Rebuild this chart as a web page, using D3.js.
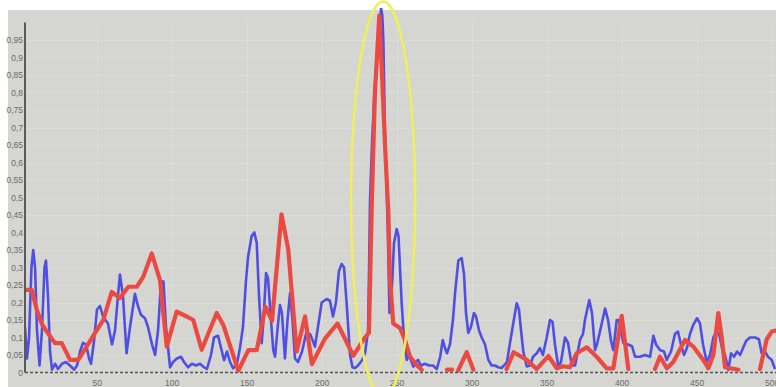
<!DOCTYPE html>
<html><head><meta charset="utf-8">
<script src="https://cdn.jsdelivr.net/npm/d3@7"></script>
<style>
html,body{margin:0;padding:0;background:#fff;}
svg{display:block;font-family:"Liberation Sans",Arial,sans-serif;}
</style></head>
<body>
<svg id="chart" width="776" height="387"></svg>
<script>
// ---- data ----
const yTicks = [0,0.05,0.1,0.15,0.2,0.25,0.3,0.35,0.4,0.45,0.5,0.55,0.6,0.65,0.7,0.75,0.8,0.85,0.9,0.95];
const xTicks = [50,100,150,200,250,300,350,400,450,500];
const bluePoints = [[2.2,0.13],[3.5,0.04],[4.9,0.10],[6.5,0.30],[7.7,0.35],[8.9,0.30],[10.2,0.12],[11.9,0.02],[13.5,0.12],[15.2,0.30],[16.2,0.32],[17.5,0.22],[18.9,0.06],[20.2,0.008],[22.2,0.025],[24.2,0.01],[26.9,0.025],[29.5,0.03],[32.2,0.02],[34.9,0.008],[36.9,0.02],[38.9,0.06],[40.9,0.085],[42.9,0.08],[44.9,0.04],[46.2,0.025],[48.2,0.09],[50.2,0.18],[52.2,0.19],[54.2,0.16],[57.5,0.14],[60.2,0.08],[62.2,0.12],[64.2,0.22],[65.5,0.28],[67.5,0.22],[69.9,0.055],[72.2,0.13],[75.5,0.225],[77.5,0.19],[79.5,0.165],[82.2,0.155],[84.2,0.13],[86.9,0.08],[88.9,0.05],[90.9,0.12],[92.9,0.26],[94.5,0.26],[96.2,0.13],[98.9,0.015],[100.9,0.03],[103.5,0.04],[106.2,0.045],[108.2,0.03],[110.9,0.015],[113.5,0.025],[116.2,0.02],[118.9,0.025],[121.5,0.015],[123.5,0.01],[126.2,0.05],[128.2,0.10],[130.9,0.105],[132.9,0.07],[134.9,0.035],[136.9,0.06],[138.9,0.03],[140.9,0.012],[143.5,0.025],[145.5,0.07],[147.5,0.13],[149.5,0.26],[150.9,0.33],[153.3,0.39],[155.1,0.40],[156.7,0.37],[158.2,0.22],[160.0,0.084],[161.2,0.15],[162.9,0.284],[164.2,0.27],[165.5,0.19],[167.7,0.064],[168.9,0.045],[170.9,0.14],[172.2,0.193],[173.5,0.17],[175.5,0.04],[177.2,0.15],[178.9,0.227],[180.5,0.15],[182.2,0.04],[184.2,0.03],[186.9,0.06],[189.5,0.11],[192.2,0.11],[194.2,0.09],[195.5,0.074],[197.5,0.13],[200.0,0.2],[203.3,0.21],[205.5,0.205],[207.5,0.16],[209.5,0.2],[211.5,0.29],[213.3,0.31],[214.9,0.30],[216.9,0.18],[218.9,0.05],[220.5,0.015],[222.2,0.013],[224.2,0.02],[226.9,0.035],[228.9,0.055],[230.9,0.12],[231.6,0.3],[232.2,0.49],[233.5,0.65],[234.9,0.78],[236.7,0.9],[238.2,0.98],[239.6,1.04],[240.4,1.02],[241.1,0.95],[242.2,0.68],[244.0,0.42],[245.2,0.17],[246.9,0.25],[248.2,0.37],[250.0,0.41],[251.2,0.39],[253.3,0.20],[254.5,0.12],[255.5,0.07],[256.7,0.036],[258.2,0.05],[259.5,0.035],[261.1,0.017],[262.9,0.03],[264.2,0.036],[266.2,0.02],[268.9,0.025],[271.5,0.02],[274.2,0.02],[276.7,0.01],[279.0,0.045],[280.7,0.093],[282.2,0.07],[283.5,0.055],[285.5,0.08],[287.5,0.15],[288.9,0.227],[291.1,0.32],[293.3,0.327],[294.9,0.28],[296.2,0.17],[297.7,0.113],[299.5,0.13],[301.5,0.17],[302.9,0.16],[304.9,0.12],[306.7,0.10],[308.9,0.08],[311.1,0.036],[313.3,0.02],[315.5,0.02],[317.7,0.015],[320.0,0.013],[321.5,0.02],[323.5,0.03],[325.5,0.084],[327.7,0.14],[330.0,0.198],[331.5,0.18],[332.9,0.12],[334.4,0.06],[336.7,0.017],[338.9,0.02],[340.9,0.045],[343.4,0.055],[345.5,0.07],[347.5,0.05],[350.0,0.1],[352.2,0.15],[353.9,0.145],[355.5,0.08],[357.7,0.017],[359.5,0.03],[362.2,0.10],[364.2,0.085],[366.7,0.02],[368.9,0.02],[372.2,0.093],[374.2,0.11],[375.5,0.15],[378.4,0.207],[380.2,0.17],[382.2,0.064],[383.5,0.08],[386.2,0.13],[388.9,0.183],[390.9,0.15],[392.9,0.09],[394.4,0.064],[396.7,0.15],[398.2,0.15],[401.1,0.084],[404.2,0.08],[406.9,0.075],[408.9,0.045],[412.2,0.045],[415.5,0.05],[418.9,0.045],[421.1,0.105],[422.9,0.08],[425.5,0.064],[428.2,0.06],[430.0,0.036],[432.9,0.06],[435.5,0.11],[437.5,0.117],[439.5,0.08],[441.5,0.05],[443.5,0.07],[445.5,0.11],[447.7,0.136],[450.2,0.155],[452.2,0.14],[454.2,0.08],[456.7,0.03],[458.9,0.05],[461.1,0.10],[463.3,0.117],[464.9,0.11],[466.9,0.07],[468.9,0.05],[471.1,0.007],[472.9,0.055],[474.9,0.045],[476.9,0.06],[478.9,0.05],[480.9,0.07],[482.9,0.09],[485.5,0.10],[488.9,0.10],[491.5,0.095],[493.3,0.055],[495.5,0.06],[497.5,0.045],[500.0,0.036],[502.2,0.01]];
const redPoints = [[2.2,0.236],[6.7,0.236],[10.0,0.18],[13.3,0.14],[16.7,0.117],[22.2,0.084],[26.7,0.084],[32.2,0.036],[37.7,0.036],[43.3,0.074],[48.9,0.113],[54.4,0.15],[60.0,0.23],[65.5,0.213],[71.1,0.245],[76.7,0.245],[81.1,0.274],[86.7,0.34],[92.2,0.264],[96.7,0.074],[103.3,0.174],[110.0,0.16],[114.4,0.15],[120.0,0.065],[130.0,0.17],[134.4,0.136],[144.4,0.005],[151.1,0.064],[156.7,0.064],[162.5,0.188],[166.9,0.148],[173.2,0.452],[177.7,0.352],[183.3,0.06],[188.9,0.16],[193.5,0.024],[202.2,0.097],[210.5,0.14],[221.1,0.048],[228.9,0.10],[231.5,0.113],[233.5,0.5],[235.5,0.8],[238.4,1.02],[240.2,0.85],[242.2,0.65],[244.4,0.46],[245.5,0.27],[247.7,0.14],[252.2,0.127],[255.5,0.093],[258.9,0.045],[263.3,0.021],[266.7,0.008],[270,null],[283.5,0.008],[286.9,0.008],[288,null],[290.9,0.005],[296.7,0.058],[301.1,0.008],[305,null],[323.3,0.01],[327.9,0.058],[336.7,0.036],[343.3,0.01],[351.1,0.047],[356.7,0.012],[361.1,0.018],[365.5,0.015],[370.0,0.055],[376.7,0.072],[383.3,0.045],[390.0,0.012],[394.4,0.012],[400.0,0.162],[404.4,0.01],[410,null],[422.2,0.01],[425.5,0.045],[430.2,0.012],[434.4,0.03],[442.2,0.093],[447.7,0.074],[454.4,0.036],[457.8,0.012],[461.1,0.05],[464.4,0.17],[466.7,0.1],[468.9,0.015],[477.8,0.008],[485,null],[492.2,0.01],[496.7,0.095],[500.0,0.117],[502.9,0.12]];
// annotation ellipse around the main peak (data units)
const ellipseX = [219.6, 262.3];
const ellipseY = [-0.07, 1.06];

// ---- chart ----
const svg = d3.select("#chart");
const W = 776, H = 387;
const x = d3.scaleLinear().domain([0, 500]).range([21.7, 771.7]);
const y = d3.scaleLinear().domain([0, 1]).range([372.5, 22.5]);
const plotLeft = x(2.2), plotRight = W, plotTop = 8, plotBottom = y(0);

svg.append("rect").attr("x", 8).attr("y", 10).attr("width", W - 8).attr("height", H - 10).attr("fill", "#d5d5d1");

// grid
svg.append("g").selectAll("line").data(yTicks.filter(d => d > 0)).join("line")
  .attr("x1", plotLeft).attr("x2", plotRight)
  .attr("y1", d => Math.round(y(d)) + 0.5).attr("y2", d => Math.round(y(d)) + 0.5)
  .attr("stroke", "#e2e2de").attr("stroke-width", 1).attr("stroke-dasharray", "2,2");
svg.append("g").selectAll("line").data(xTicks).join("line")
  .attr("x1", d => Math.round(x(d)) + 0.5).attr("x2", d => Math.round(x(d)) + 0.5)
  .attr("y1", y(1)).attr("y2", plotBottom)
  .attr("stroke", "#e2e2de").attr("stroke-width", 1).attr("stroke-dasharray", "2,2");

// clip
svg.append("defs").append("clipPath").attr("id", "clip").append("rect")
  .attr("x", plotLeft).attr("y", plotTop).attr("width", plotRight - plotLeft).attr("height", plotBottom - plotTop);

const line = d3.line().defined(d => d[1] !== null).x(d => x(d[0])).y(d => y(d[1]));
const g = svg.append("g").attr("clip-path", "url(#clip)");
g.append("path").datum(bluePoints).attr("d", line).attr("fill", "none")
  .attr("stroke", "#4f4fe4").attr("stroke-width", 2.6).attr("stroke-linejoin", "round");
g.append("path").datum(redPoints).attr("d", line).attr("fill", "none")
  .attr("stroke", "#eb4a42").attr("stroke-width", 4.2).attr("stroke-linejoin", "round").attr("stroke-linecap", "round");

// axes
const fmt = d => d === 0 ? "0" : d3.format(".2~f")(d).replace(".", ",");
const yAxis = svg.append("g").attr("transform", `translate(${plotLeft},0)`)
  .call(d3.axisLeft(y).tickValues(yTicks).tickFormat(fmt).tickSize(0).tickPadding(2));
yAxis.select(".domain").remove();
yAxis.selectAll("text").attr("fill", "#6c6c6c").attr("font-size", 8.5).attr("font-family", "Liberation Sans, Arial, sans-serif");
svg.append("line").attr("x1", plotLeft).attr("x2", plotLeft).attr("y1", y(1)).attr("y2", plotBottom)
  .attr("stroke", "#5a5a5a").attr("stroke-width", 2);

const xAxis = svg.append("g").attr("transform", `translate(0,${plotBottom})`)
  .call(d3.axisBottom(x).tickValues(xTicks).tickFormat(d3.format("d")).tickSize(0).tickPadding(7));
xAxis.select(".domain").remove();
xAxis.selectAll("text").attr("fill", "#6c6c6c").attr("font-size", 8.5).attr("font-family", "Liberation Sans, Arial, sans-serif");
svg.append("line").attr("x1", plotLeft).attr("x2", plotRight).attr("y1", plotBottom).attr("y2", plotBottom)
  .attr("stroke", "#555").attr("stroke-width", 1.5).attr("stroke-dasharray", "3,2");

// annotation ellipse
svg.append("ellipse")
  .attr("cx", x((ellipseX[0] + ellipseX[1]) / 2)).attr("cy", y((ellipseY[0] + ellipseY[1]) / 2))
  .attr("rx", (x(ellipseX[1]) - x(ellipseX[0])) / 2).attr("ry", (y(ellipseY[0]) - y(ellipseY[1])) / 2)
  .attr("fill", "none").attr("stroke", "#eeee5e").attr("stroke-width", 2.6);
</script>
</body></html>
